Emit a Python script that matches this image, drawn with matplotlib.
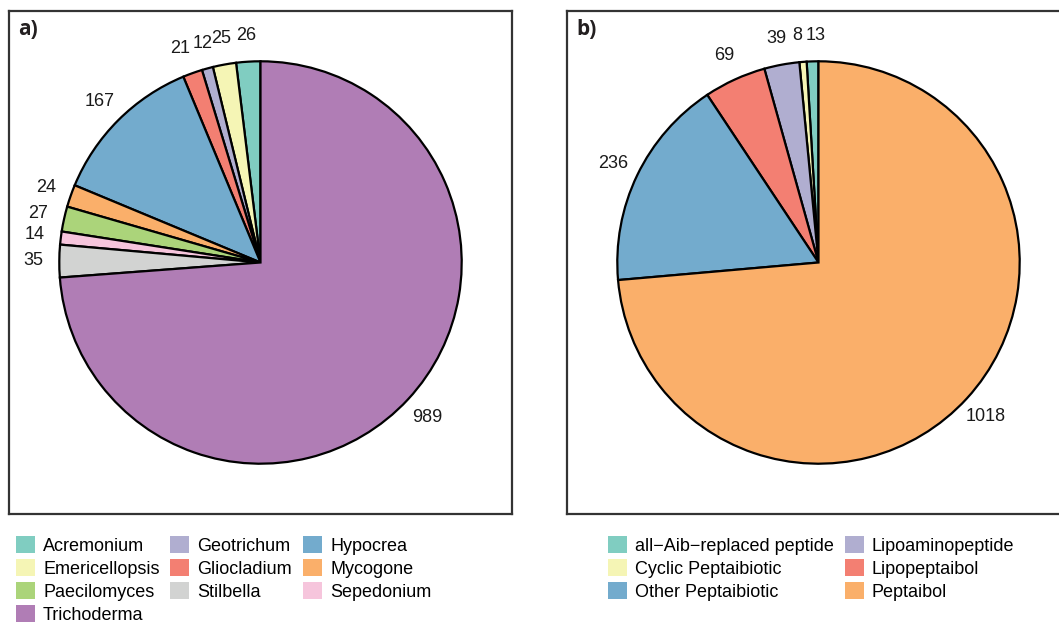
import matplotlib.pyplot as plt
from matplotlib.patches import Patch

plt.rcParams['font.family'] = ['Liberation Sans', 'DejaVu Sans']

# a) peptaibiotics by producing genus
genus = ['Acremonium', 'Emericellopsis', 'Geotrichum', 'Gliocladium', 'Hypocrea',
         'Mycogone', 'Paecilomyces', 'Sepedonium', 'Stilbella', 'Trichoderma']
genus_counts = [26, 25, 12, 21, 167, 24, 27, 14, 35, 989]
genus_colors = ['#80CDC1', '#F5F5B5', '#B0AED0', '#F37F72', '#73ABCD',
                '#FAAF6A', '#ABD47A', '#F6C5DC', '#D2D3D2', '#B07DB5']

# b) peptaibiotics by class
classes = ['all\u2212Aib\u2212replaced peptide', 'Cyclic Peptaibiotic', 'Lipoaminopeptide',
           'Lipopeptaibol', 'Other Peptaibiotic', 'Peptaibol']
class_counts = [13, 8, 39, 69, 236, 1018]
class_colors = ['#80CDC1', '#F5F5B5', '#B0AED0', '#F37F72', '#73ABCD', '#FAAF6A']

W, H = 1059, 623
fig = plt.figure(figsize=(W / 100, H / 100), dpi=100)


def pie_panel(left, values, colors, tag):
    ax = fig.add_axes([left / W, 1 - 514 / H, 503 / W, 503 / H])
    wedges, texts = ax.pie(values, colors=colors, startangle=90, counterclock=True,
                           labels=[str(v) for v in values], labeldistance=1.13,
                           frame=True,
                           wedgeprops=dict(edgecolor='black', linewidth=1.6),
                           textprops=dict(fontsize=13, color='#1a1a1a'))
    for t in texts:
        t.set_ha('center')
        t.set_va('center')
    ax.set_xlim(-1.25, 1.25)
    ax.set_ylim(-1.25, 1.25)
    ax.set_aspect('equal')
    ax.set_xticks([])
    ax.set_yticks([])
    for s in ax.spines.values():
        s.set_color('#333333')
        s.set_linewidth(1.6)
    ax.text(0.018, 0.985, tag, transform=ax.transAxes, ha='left', va='top',
            fontsize=15, fontweight='bold', family='Open Sans', color='#231f20')
    return ax, texts


def spread_labels(ax, texts, pad=3):
    # push neighbouring labels apart sideways when they collide
    fig.canvas.draw()
    r = fig.canvas.get_renderer()
    inv = ax.transData.inverted()
    for a, b in zip(texts[:-1], texts[1:]):
        ba, bb = a.get_window_extent(r), b.get_window_extent(r)
        vert = min(ba.y1, bb.y1) - max(ba.y0, bb.y0)
        if vert <= 0:
            continue
        if ba.x0 >= bb.x0:
            over = bb.x1 - ba.x0 + pad
        else:
            over = ba.x1 - bb.x0 + pad
        if over <= 0:
            continue
        sign = 1 if ba.x0 >= bb.x0 else -1
        for t, s in ((a, sign), (b, -sign)):
            px = ax.transData.transform(t.get_position())
            px[0] += s * over / 2
            t.set_position(inv.transform(px))


ax_a, texts_a = pie_panel(9, genus_counts, genus_colors, 'a)')
ax_b, texts_b = pie_panel(567, class_counts, class_colors, 'b)')
spread_labels(ax_a, texts_a)
spread_labels(ax_b, texts_b)

leg_kw = dict(loc='upper left', frameon=False, fontsize=13,
              handlelength=1.05, handleheight=1.05, handletextpad=0.45,
              labelspacing=0.25, columnspacing=0.6, borderpad=0, borderaxespad=0)

# legend order as laid out under each panel (column by column)
order_a = [0, 1, 6, 9, 2, 3, 8, 4, 5, 7]
handles_a = [Patch(facecolor=genus_colors[i], label=genus[i]) for i in order_a]
fig.legend(handles=handles_a, ncol=3, bbox_to_anchor=(16 / W, 1 - 536 / H), **leg_kw)

order_b = [0, 1, 4, 2, 3, 5]
handles_b = [Patch(facecolor=class_colors[i], label=classes[i]) for i in order_b]
fig.legend(handles=handles_b, ncol=2, bbox_to_anchor=(608 / W, 1 - 536 / H), **leg_kw)

fig.savefig('out.png', dpi=100)
